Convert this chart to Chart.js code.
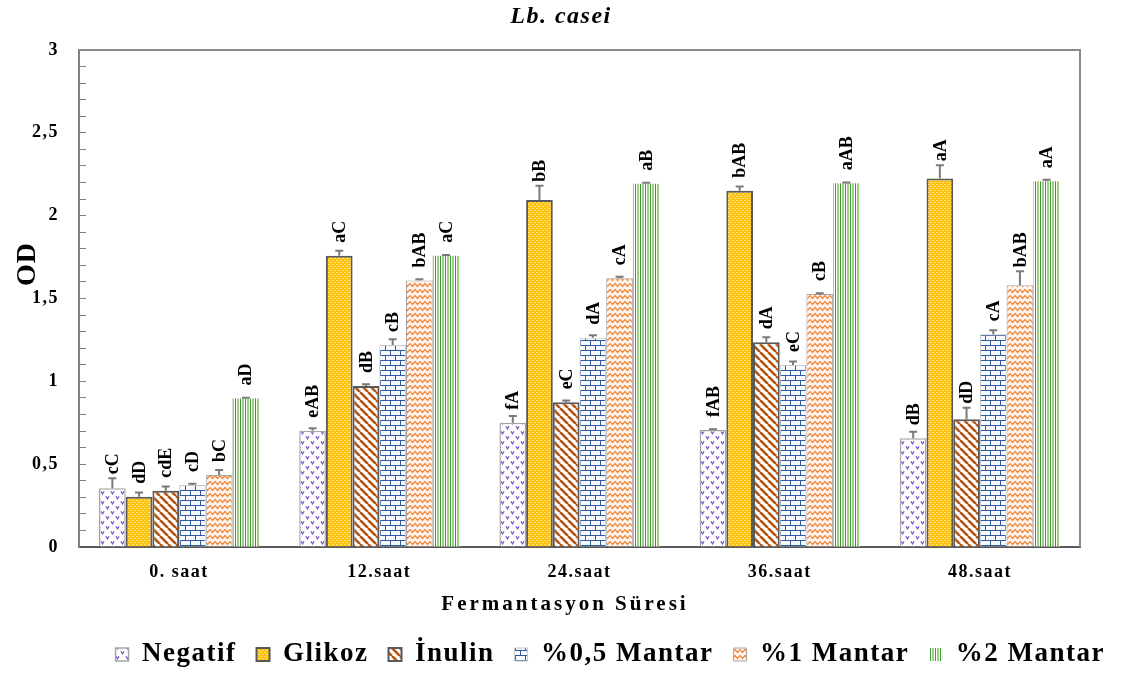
<!DOCTYPE html>
<html>
<head>
<meta charset="utf-8">
<script src="https://cdn.jsdelivr.net/npm/chart.js@4.4.1/dist/chart.umd.min.js"></script>
<style>
  html, body { margin: 0; padding: 0; background: #fff; }
  #odChart { display: block; }
</style>
</head>
<body>
<canvas id="odChart" width="1125" height="673"></canvas>
<script>
// --- veriler ---
const categories = ["0. saat", "12.saat", "24.saat", "36.saat", "48.saat"];
const seriesNames = ["Negatif", "Glikoz", "İnulin", "%0,5 Mantar", "%1 Mantar", "%2 Mantar"];

const negatif  = [0.355, 0.702, 0.750, 0.706, 0.656];
const glikoz   = [0.304, 1.758, 2.095, 2.151, 2.225];
const inulin   = [0.340, 0.972, 0.873, 1.236, 0.771];
const mantar05 = [0.374, 1.219, 1.263, 1.099, 1.284];
const mantar1  = [0.435, 1.608, 1.622, 1.527, 1.580];
const mantar2  = [0.897, 1.758, 2.193, 2.195, 2.207];

const negatifErr  = [0.060, 0.015, 0.040, 0.005, 0.040];
const glikozErr   = [0.025, 0.030, 0.085, 0.025, 0.080];
const inulinErr   = [0.025, 0.010, 0.012, 0.030, 0.070];
const mantar05Err = [0.008, 0.035, 0.015, 0.020, 0.025];
const mantar1Err  = [0.030, 0.008, 0.010, 0.005, 0.085];
const mantar2Err  = [0.004, 0.005, 0.005, 0.005, 0.010];

const negatifHarf  = ["cC", "eAB", "fA", "fAB", "dB"];
const glikozHarf   = ["dD", "aC", "bB", "bAB", "aA"];
const inulinHarf   = ["cdE", "dB", "eC", "dA", "dD"];
const mantar05Harf = ["cD", "cB", "dA", "eC", "cA"];
const mantar1Harf  = ["bC", "bAB", "cA", "cB", "bAB"];
const mantar2Harf  = ["aD", "aC", "aB", "aAB", "aA"];

const yMajorTicks = [0, 0.5, 1, 1.5, 2, 2.5, 3];

const SERIF = "'Liberation Serif', 'Times New Roman', serif";

// --- desenler (pattern) ---
function makePattern(w, h, draw) {
    const c = document.createElement("canvas");
    c.width = w; c.height = h;
    const g = c.getContext("2d");
    draw(g, w, h);
    return g.createPattern(c, "repeat");
}

const negatifFill = makePattern(10, 10, (g, w, h) => {
    g.fillStyle = "#ffffff"; g.fillRect(0, 0, w, h);
    g.strokeStyle = "#7a4cc6"; g.lineWidth = 1.2;
    [[2.5, 2.5], [7.5, 7.5]].forEach(([x, y]) => {
        g.beginPath();
        g.moveTo(x - 1.6, y - 1.2); g.lineTo(x, y + 1.3); g.lineTo(x + 1.6, y - 1.2);
        g.stroke();
    });
});

const glikozFill = makePattern(4, 4, (g, w, h) => {
    g.fillStyle = "#ffc20e"; g.fillRect(0, 0, w, h);
    g.fillStyle = "#ffe27c";
    g.fillRect(0, 0, 1, 1); g.fillRect(2, 2, 1, 1);
    g.fillRect(1, 0, 1, 1); g.fillRect(3, 2, 1, 1);
});

const inulinFill = makePattern(8, 8, (g, w, h) => {
    g.fillStyle = "#ffffff"; g.fillRect(0, 0, w, h);
    g.strokeStyle = "#b5530f"; g.lineWidth = 2.6;
    for (let k = -1; k <= 1; k++) {
        g.beginPath();
        g.moveTo(k * w, 0); g.lineTo(k * w + w, h);
        g.stroke();
    }
});

const mantar05Fill = makePattern(10, 10, (g, w, h) => {
    g.fillStyle = "#f7f9fd"; g.fillRect(0, 0, w, h);
    g.strokeStyle = "#2f5a9e"; g.lineWidth = 1;
    g.beginPath();
    g.moveTo(0, 0.5); g.lineTo(w, 0.5);
    g.moveTo(0, 5.5); g.lineTo(w, 5.5);
    g.moveTo(0.5, 0); g.lineTo(0.5, 5.5);
    g.moveTo(5.5, 5.5); g.lineTo(5.5, 10);
    g.stroke();
});

const mantar1Fill = makePattern(10, 6, (g, w, h) => {
    g.fillStyle = "#fff5ee"; g.fillRect(0, 0, w, h);
    g.strokeStyle = "#f0883e"; g.lineWidth = 1.2;
    g.beginPath();
    g.moveTo(0, 1.5); g.lineTo(2.5, 4.5); g.lineTo(5, 1.5); g.lineTo(7.5, 4.5); g.lineTo(10, 1.5);
    g.stroke();
});

const mantar2Fill = makePattern(5, 4, (g, w, h) => {
    g.fillStyle = "#ffffff"; g.fillRect(0, 0, w, h);
    g.fillStyle = "#3f9a3f"; g.fillRect(0, 0, 1, h);
    g.fillStyle = "#9fcf82"; g.fillRect(2, 0, 2, h);
});

// --- eklentiler ---
const spacingPlugin = {
    id: "spacing",
    beforeLayout(chart) { chart.ctx.letterSpacing = "1.5px"; },
    beforeDraw(chart) { chart.ctx.letterSpacing = "1.5px"; }
};

const errorBarPlugin = {
    id: "errorBars",
    afterDatasetsDraw(chart) {
        const ctx = chart.ctx;
        const y = chart.scales.y;
        chart.data.datasets.forEach((ds, i) => {
            const meta = chart.getDatasetMeta(i);
            meta.data.forEach((bar, j) => {
                const top = bar.y;
                const errTop = y.getPixelForValue(ds.data[j] + ds.errors[j]);
                ctx.save();
                ctx.strokeStyle = "#7a7a7a";
                ctx.lineWidth = 2;
                ctx.beginPath();
                ctx.moveTo(bar.x, top);
                ctx.lineTo(bar.x, errTop);
                ctx.moveTo(bar.x - 4, errTop);
                ctx.lineTo(bar.x + 4, errTop);
                ctx.stroke();

                // harf etiketi (dikey)
                const start = Math.min(top - 13, errTop - 4);
                ctx.letterSpacing = "0px";
                ctx.translate(bar.x, start);
                ctx.rotate(-Math.PI / 2);
                ctx.font = "bold 18px " + SERIF;
                ctx.fillStyle = "#000";
                ctx.textAlign = "left";
                ctx.textBaseline = "middle";
                ctx.fillText(ds.letters[j], 0, 1);
                ctx.restore();
            });
        });
    }
};

const framePlugin = {
    id: "frame",
    afterDraw(chart) {
        const { ctx, chartArea: a } = chart;
        ctx.save();
        ctx.strokeStyle = "#8c8c8c";
        ctx.lineWidth = 2;
        ctx.beginPath();
        ctx.moveTo(a.left, a.top);
        ctx.lineTo(a.right, a.top);
        ctx.lineTo(a.right, a.bottom);
        ctx.stroke();

        // başlıklar
        ctx.fillStyle = "#000";
        ctx.textAlign = "center";
        ctx.textBaseline = "middle";

        ctx.letterSpacing = "1.5px";
        ctx.font = "italic bold 24px " + SERIF;
        ctx.fillText("Lb. casei", 561, 17);

        ctx.letterSpacing = "3px";
        ctx.font = "bold 21px " + SERIF;
        ctx.fillText("Fermantasyon Süresi", 565, 605);

        ctx.letterSpacing = "1px";
        ctx.translate(28, 264);
        ctx.rotate(-Math.PI / 2);
        ctx.font = "bold 28px " + SERIF;
        ctx.fillText("OD", 0, 0);
        ctx.restore();
    }
};

function ds(label, data, errors, letters, fill, border, bw) {
    return {
        label, data, errors, letters,
        backgroundColor: fill,
        borderColor: border,
        borderWidth: bw
    };
}

new Chart(document.getElementById("odChart"), {
    type: "bar",
    data: {
        labels: categories,
        datasets: [
            ds(seriesNames[0], negatif, negatifErr, negatifHarf, negatifFill, "#a6a6a6", 1.5),
            ds(seriesNames[1], glikoz, glikozErr, glikozHarf, glikozFill, "#595959", 2),
            ds(seriesNames[2], inulin, inulinErr, inulinHarf, inulinFill, "#595959", 2),
            ds(seriesNames[3], mantar05, mantar05Err, mantar05Harf, mantar05Fill, "#c9c9c9", 1),
            ds(seriesNames[4], mantar1, mantar1Err, mantar1Harf, mantar1Fill, "#a6a6a6", 1),
            ds(seriesNames[5], mantar2, mantar2Err, mantar2Harf, mantar2Fill, "rgba(0,0,0,0)", 0)
        ]
    },
    options: {
        responsive: false,
        animation: false,
        devicePixelRatio: 1,
        datasets: {
            bar: { categoryPercentage: 0.8, barPercentage: 1.0 }
        },
        layout: { padding: { top: 50, left: 0, right: 0, bottom: -5 } },
        plugins: {
            legend: {
                position: "bottom",
                align: "end",
                labels: {
                    color: "#000",
                    font: { family: SERIF, size: 27, weight: "bold" },
                    boxWidth: 13,
                    boxHeight: 13,
                    padding: 20
                }
            },
            tooltip: { enabled: false },
            title: { display: false }
        },
        scales: {
            x: {
                grid: { display: false, drawTicks: false },
                border: { display: true, color: "#595959", width: 2 },
                ticks: {
                    color: "#000",
                    font: { family: SERIF, size: 18, weight: "bold" },
                    padding: 15
                },
                afterFit: (scale) => { scale.height = 74; }
            },
            y: {
                min: 0,
                max: 3,
                ticks: {
                    stepSize: 0.1,
                    autoSkip: false,
                    color: "#000",
                    padding: 27,
                    font: { family: SERIF, size: 18, weight: "bold" },
                    callback: (v) => {
                        const r = Math.round(v * 10) / 10;
                        return yMajorTicks.includes(r) ? String(r).replace(".", ",") : "";
                    }
                },
                grid: {
                    drawOnChartArea: false,
                    drawTicks: true,
                    tickLength: -7,
                    color: "#808080",
                    lineWidth: 1
                },
                border: { display: true, color: "#808080", width: 2 },
                afterFit: (scale) => { scale.width = 79; }
            },
            yRight: {
                position: "right",
                display: true,
                grid: { display: false, drawTicks: false },
                border: { display: false },
                ticks: { display: false },
                afterFit: (scale) => { scale.width = 45; }
            }
        }
    },
    plugins: [spacingPlugin, errorBarPlugin, framePlugin]
});
</script>
</body>
</html>
